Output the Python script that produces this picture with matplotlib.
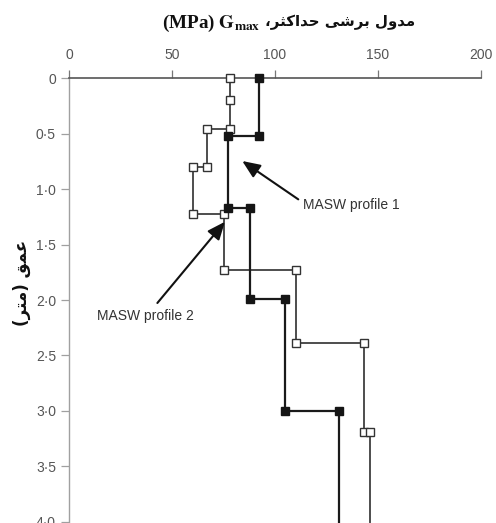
import matplotlib
matplotlib.use("Agg")
import matplotlib.pyplot as plt

# ---------------- data ----------------
g_ticks = [0, 50, 100, 150, 200]
depth_ticks = [0, 0.5, 1.0, 1.5, 2.0, 2.5, 3.0, 3.5, 4.0]
depth_tick_labels = ["0", "0·5", "1·0", "1·5", "2·0", "2·5", "3·0", "3·5", "4·0"]

# MASW profile 1 (filled squares)
p1_g = [92, 92, 77, 77, 88, 88, 105, 105, 131, 131]
p1_depth = [0, 0.52, 0.52, 1.17, 1.17, 1.99, 1.99, 3.0, 3.0, 4.0]

# MASW profile 2 (open squares)
p2_g = [78, 78, 78, 67, 67, 60, 60, 75, 75, 110, 110, 143, 143, 146, 146]
p2_depth = [0, 0.2, 0.46, 0.46, 0.8, 0.8, 1.22, 1.22, 1.73, 1.73, 2.39, 2.39, 3.19, 3.19, 4.0]

title_fa = "مدول برشی حداکثر،"
title_unit = r"(MPa) $\mathbf{G}_{\mathbf{max}}$"
ylabel_fa = "عمق (متر)"
label_p1 = "MASW profile 1"
label_p2 = "MASW profile 2"

# ------------- minimal Arabic-script shaping for display -------------
FORMS = {
    'ا': ('\uFE8D', '\uFE8E', None, None),
    'ب': ('\uFE8F', '\uFE90', '\uFE91', '\uFE92'),
    'ت': ('\uFE95', '\uFE96', '\uFE97', '\uFE98'),
    'ث': ('\uFE99', '\uFE9A', '\uFE9B', '\uFE9C'),
    'ح': ('\uFEA1', '\uFEA2', '\uFEA3', '\uFEA4'),
    'د': ('\uFEA9', '\uFEAA', None, None),
    'ر': ('\uFEAD', '\uFEAE', None, None),
    'ش': ('\uFEB5', '\uFEB6', '\uFEB7', '\uFEB8'),
    'ع': ('\uFEC9', '\uFECA', '\uFECB', '\uFECC'),
    'ق': ('\uFED5', '\uFED6', '\uFED7', '\uFED8'),
    'ل': ('\uFEDD', '\uFEDE', '\uFEDF', '\uFEE0'),
    'م': ('\uFEE1', '\uFEE2', '\uFEE3', '\uFEE4'),
    'و': ('\uFEED', '\uFEEE', None, None),
    'ک': ('\uFB8E', '\uFB8F', '\uFB90', '\uFB91'),
    'ی': ('\uFBFC', '\uFBFD', '\uFBFE', '\uFBFF'),
}


def shape_rtl(s):
    out = []
    n = len(s)
    for i, c in enumerate(s):
        if c not in FORMS:
            out.append(c)
            continue
        iso, fin, ini, med = FORMS[c]
        prev = s[i - 1] if i > 0 else None
        nxt = s[i + 1] if i < n - 1 else None
        jp = prev in FORMS and FORMS[prev][2] is not None
        jn = nxt in FORMS and ini is not None
        if jp and jn:
            out.append(med)
        elif jp:
            out.append(fin)
        elif jn:
            out.append(ini)
        else:
            out.append(iso)
    vis = ''.join(out)[::-1]
    return vis.translate(str.maketrans("()", ")("))


plt.rcParams['mathtext.fontset'] = 'stix'

fig = plt.figure(figsize=(4.96, 5.23), dpi=100)
ax = fig.add_axes([69 / 496, 1 - 521.7 / 523, 412 / 496, (521.7 - 78.3) / 523])

line_dark = '#1a1a1a'
line_gray = '#4d4d4d'

ax.plot(p2_g, p2_depth, color=line_gray, lw=1.4, zorder=3, clip_on=False)
ax.plot(p1_g, p1_depth, color=line_dark, lw=1.6, zorder=4, clip_on=False)
ax.plot(p2_g[:-1], p2_depth[:-1], ls='none', marker='s', ms=6.2,
        mfc='white', mec='#333333', mew=1.0, zorder=5, clip_on=False)
ax.plot(p1_g[:-1], p1_depth[:-1], ls='none', marker='s', ms=6.2,
        mfc='#151515', mec='#151515', mew=1.0, zorder=6, clip_on=False)

ax.set_xlim(0, 200)
ax.set_ylim(4.0, 0)

ax.xaxis.tick_top()
ax.set_xticks(g_ticks)
ax.set_xticklabels([str(v) for v in g_ticks])
ax.set_yticks(depth_ticks)
ax.set_yticklabels(depth_tick_labels)

for sp in ['right', 'bottom']:
    ax.spines[sp].set_visible(False)
ax.spines['top'].set_color('#555555')
ax.spines['top'].set_linewidth(1.2)
ax.spines['left'].set_color('#a0a0a0')
ax.spines['left'].set_linewidth(1.0)

ax.tick_params(axis='x', direction='out', length=5.8, width=0.9, color='#777777',
               labelcolor='#555555', labelsize=10, pad=6)
ax.tick_params(axis='y', direction='out', length=5.8, width=0.9, color='#a0a0a0',
               labelcolor='#555555', labelsize=10, pad=3.6)
for lab in ax.get_xticklabels() + ax.get_yticklabels():
    lab.set_family('Liberation Sans')

arrow_kw = dict(arrowstyle='-|>,head_length=0.9,head_width=0.38', color='#111111',
                lw=1.5, shrinkA=0, shrinkB=0, mutation_scale=12)
ax.annotate('', xy=(84.1, 0.746), xytext=(111.3, 1.092), arrowprops=arrow_kw, zorder=7)
ax.annotate('', xy=(75.7, 1.294), xytext=(42.9, 2.027), arrowprops=arrow_kw, zorder=7)
ax.text(113.4, 1.143, label_p1, ha='left', va='center', fontsize=10,
        family='Liberation Sans', color='#333333')
ax.text(13.4, 2.144, label_p2, ha='left', va='center', fontsize=10,
        family='Liberation Sans', color='#333333')

# title: Latin unit part (left) + Persian part (right)
fig.text(260 / 496, 1 - 23.5 / 523, title_unit, ha='right', va='center',
         fontsize=13.8, fontweight='bold', family='Liberation Serif',
         color='#111111')
fig.text(265 / 496, 1 - 22 / 523, shape_rtl(title_fa), ha='left', va='center',
         fontsize=10.8, fontweight='bold', family='DejaVu Sans',
         color='#111111')

# y label
fig.text(22 / 496, 1 - 283 / 523, shape_rtl(ylabel_fa), ha='center', va='center',
         rotation=90, fontsize=12, fontweight='bold',
         family='DejaVu Sans', color='#111111')

fig.savefig('out.png', dpi=100)
